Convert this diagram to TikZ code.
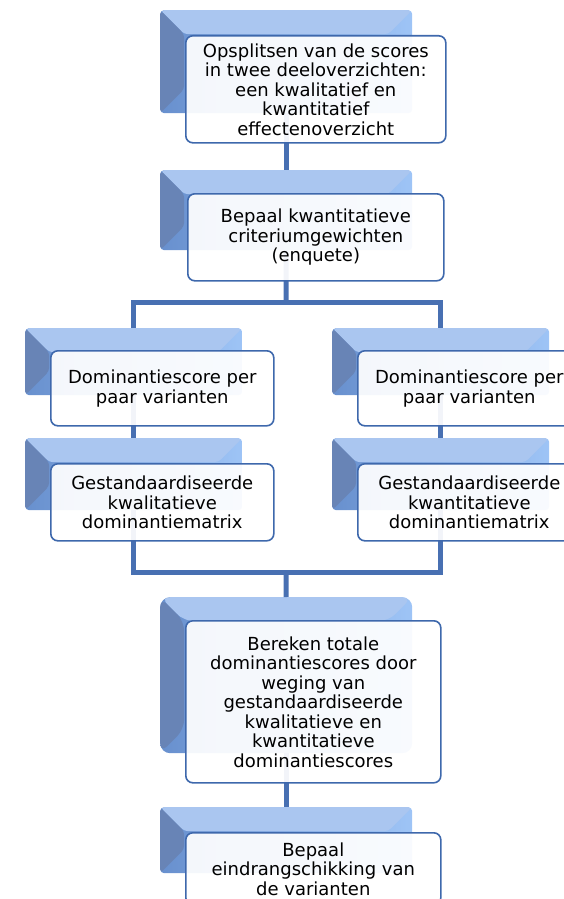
\documentclass[tikz,border=0pt]{standalone}
\usepackage{fontspec}
\setmainfont{DejaVu Sans}
\usetikzlibrary{positioning}
\definecolor{backlight}{RGB}{158,196,246}
\definecolor{backdark}{RGB}{104,144,206}
\definecolor{bevelside}{RGB}{104,132,182}
\definecolor{beveltop}{RGB}{170,198,240}
\definecolor{boxline}{RGB}{62,104,172}
\definecolor{linkblue}{RGB}{72,112,178}

\begin{document}
\begin{tikzpicture}[
    x=1pt, y=-1pt,
    back/.style={rectangle, rounded corners=4pt, inner sep=0pt, anchor=north west,
      left color=backdark, right color=backlight,
      path picture={
        \fill[beveltop] (path picture bounding box.north west) -- (path picture bounding box.north east)
          -- ([shift={(-24pt,-24pt)}]path picture bounding box.north east)
          -- ([shift={(24pt,-24pt)}]path picture bounding box.north west) -- cycle;
        \fill[bevelside] (path picture bounding box.north west)
          -- ([shift={(24pt,-24pt)}]path picture bounding box.north west)
          -- ([shift={(24pt,24pt)}]path picture bounding box.south west)
          -- (path picture bounding box.south west) -- cycle;
      }},
    stepbox/.style={draw=boxline, line width=1.6pt, rounded corners=7pt, anchor=north west,
      fill=white, fill opacity=0.93, text opacity=1, align=center, inner sep=2pt,
      font=\fontsize{18}{19.5}\selectfont},
    link/.style={draw=linkblue, line width=5pt}
]
  \clip (0,0) rectangle (564,899);

  % back plates
  \node[back, minimum width=252pt, minimum height=103pt] (b1) at (160,10) {};
  \node[back, minimum width=252pt, minimum height=80pt] (b2) at (160,170) {};
  \node[back, minimum width=217pt, minimum height=67pt] (b3l) at (25,328) {};
  \node[back, minimum width=217pt, minimum height=67pt] (b3r) at (332,328) {};
  \node[back, minimum width=217pt, minimum height=72pt] (b4l) at (25,438) {};
  \node[back, minimum width=217pt, minimum height=72pt] (b4r) at (332,438) {};
  \node[back, rounded corners=10pt, minimum width=252pt, minimum height=156pt] (b5) at (160,597) {};
  \node[back, minimum width=252pt, minimum height=66pt] (b6) at (160,807) {};

  \coordinate (split) at (286,302);
  \coordinate (merge) at (286,572);

  % connectors
  \draw[link] (b1.south) -- (b2.north);
  \draw[link] (b2.south) -- (split);
  \draw[link] (b3l.north) |- (split) -| (b3r.north);
  \draw[link] (b3l.south) -- (b4l.north);
  \draw[link] (b3r.south) -- (b4r.north);
  \draw[link] (b4l.south) |- (merge) -| (b4r.south);
  \draw[link] (merge) -- (b5.north);
  \draw[link] (b5.south) -- (b6.north);

  % steps
  \node[stepbox, minimum width=260pt, minimum height=107pt] (s1) at (185,35)
    {Opsplitsen van de scores\\in twee deeloverzichten:\\een kwalitatief en\\kwantitatief\\effectenoverzicht};
  \node[stepbox, minimum width=256pt, minimum height=87pt] (s2) at (187,193)
    {Bepaal kwantitatieve\\criteriumgewichten\\(enquete)};
  \node[stepbox, minimum width=223pt, minimum height=75pt] (s3l) at (50,350)
    {Dominantiescore per\\paar varianten};
  \node[stepbox, minimum width=223pt, minimum height=75pt] (s3r) at (357,350)
    {Dominantiescore per\\paar varianten};
  \node[stepbox, minimum width=223pt, minimum height=77pt] (s4l) at (50,463)
    {Gestandaardiseerde\\kwalitatieve\\dominantiematrix};
  \node[stepbox, minimum width=223pt, minimum height=77pt] (s4r) at (357,463)
    {Gestandaardiseerde\\kwantitatieve\\dominantiematrix};
  \node[stepbox, minimum width=255pt, minimum height=162pt] (s5) at (185,620)
    {Bereken totale\\dominantiescores door\\weging van\\gestandaardiseerde\\kwalitatieve en\\kwantitatieve\\dominantiescores};
  \node[stepbox, minimum width=255pt, minimum height=72pt] (s6) at (185,832)
    {Bepaal\\eindrangschikking van\\de varianten};
\end{tikzpicture}
\end{document}
